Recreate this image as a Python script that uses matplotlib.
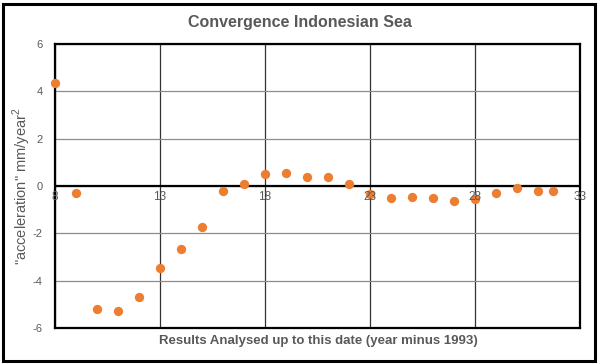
import matplotlib
matplotlib.use("Agg")
import matplotlib.pyplot as plt
from matplotlib.patches import Rectangle

x_years = [8, 9, 10, 11, 12, 13, 14, 15, 16, 17, 18, 19, 20, 21, 22,
           23, 24, 25, 26, 27, 28, 29, 30, 31, 31.7]
accel = [4.35, -0.3, -5.2, -5.3, -4.68, -3.47, -2.67, -1.72, -0.2, 0.08, 0.52, 0.55,
         0.4, 0.4, 0.1, -0.35, -0.5, -0.45, -0.5, -0.63, -0.55, -0.3, -0.1, -0.2, -0.23]

x_ticks = [8, 13, 18, 23, 28, 33]
y_ticks = [-6, -4, -2, 0, 2, 4, 6]

title = "Convergence Indonesian Sea"
xlabel = "Results Analysed up to this date (year minus 1993)"
ylabel = '"acceleration" mm/year$^2$'

gray = "#595959"
plt.rcParams['font.family'] = ['Liberation Sans', 'DejaVu Sans']
plt.rcParams['mathtext.fontset'] = 'custom'
plt.rcParams['mathtext.rm'] = 'Liberation Sans'

fig = plt.figure(figsize=(6.0, 3.64), dpi=100)
ax = fig.add_axes([55/600, 1-328/364, 525/600, 284/364])

ax.set_xlim(8, 33)
ax.set_ylim(-6, 6)
ax.scatter(x_years, accel, s=45, color="#ED7D31", zorder=5, clip_on=False, linewidths=0)

ax.set_xticks(x_ticks)
ax.set_yticks(y_ticks)
ax.grid(True, axis='x', color="#333333", linewidth=0.9)
ax.grid(True, axis='y', color="#8c8c8c", linewidth=0.9)
ax.axhline(0, color="black", linewidth=1.6, zorder=3)
for s in ax.spines.values():
    s.set_color("black")
    s.set_linewidth(1.6)

ax.tick_params(axis='both', length=0, colors=gray, labelsize=8)
ax.set_xticklabels([])
for xt in x_ticks:
    ax.text(xt, -0.2, str(xt), ha='center', va='top', fontsize=8.5, color=gray, zorder=6)
ax.set_yticklabels([str(v) for v in y_ticks])
ax.tick_params(axis='y', pad=9)

fig.text(0.5, 1-22/364, title, ha='center', va='center', fontsize=11.5, color=gray, fontweight='bold')
fig.text(318/600, 1-341/364, xlabel, ha='center', va='center', fontsize=9.5, color=gray, fontweight='bold')
fig.text(22/600, 1-186/364, ylabel, ha='center', va='center', rotation=90, fontsize=10.5, color=gray)

fig.patches.append(Rectangle((3/600, 3/364), 592/600, 357/364, transform=fig.transFigure,
                             fill=False, edgecolor='black', linewidth=2.2))

fig.savefig("out.png", dpi=100)
